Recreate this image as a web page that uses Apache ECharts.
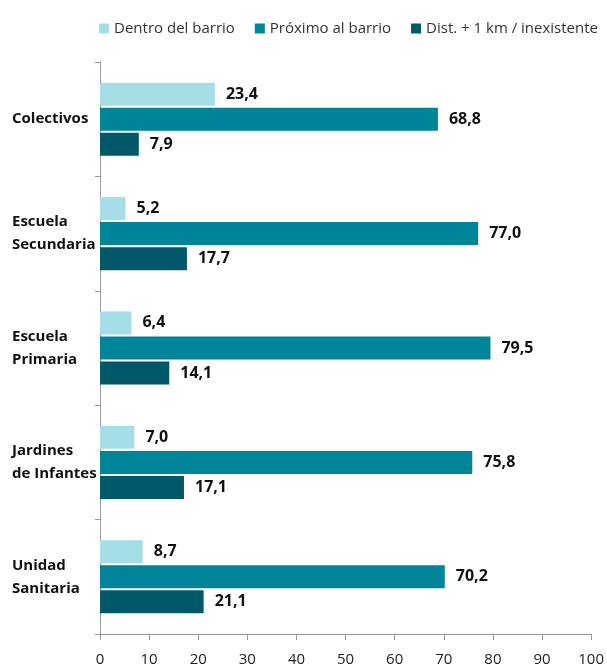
<!DOCTYPE html>
<html><head><meta charset="utf-8">
<script src="https://cdn.jsdelivr.net/npm/echarts@6/dist/echarts.min.js"></script>
<style>html,body{margin:0;padding:0;background:#fff}#c{width:607px;height:667px}</style>
</head><body><div id="c"></div>
<script>
const categories = ['Colectivos', 'Escuela\nSecundaria', 'Escuela\nPrimaria', 'Jardines\nde Infantes', 'Unidad\nSanitaria'];
const seriesNames = ['Dentro del barrio', 'Próximo al barrio', 'Dist. + 1 km / inexistente'];
const dentro = [23.4, 5.2, 6.4, 7.0, 8.7];
const proximo = [68.8, 77.0, 79.5, 75.8, 70.2];
const distante = [7.9, 17.7, 14.1, 17.1, 21.1];
const colors = ['#a6dee7', '#00849a', '#005868'];
const font = '"Open Sans", "Noto Sans", sans-serif';

const fmt = p => p.value.toFixed(1).replace('.', ',');
const mk = (name, data, color) => ({
  name, type: 'bar', data, barWidth: 23, barGap: '9%',
  itemStyle: { color },
  label: { show: true, position: 'right', distance: 11, formatter: fmt,
    fontFamily: font, fontWeight: 'bold', fontSize: 16, color: '#111' }
});

const chart = echarts.init(document.getElementById('c'));
chart.setOption({
  animation: false,
  color: colors,
  textStyle: { fontFamily: font },
  legend: {
    top: 16, right: 4, itemWidth: 10, itemHeight: 10, itemGap: 20,
    icon: 'rect',
    textStyle: { fontFamily: font, fontSize: 15, color: '#333' },
    data: seriesNames
  },
  grid: { left: 100, right: 15, top: 62, bottom: 28, containLabel: false },
  xAxis: {
    type: 'value', min: 0, max: 100, interval: 10,
    splitLine: { show: false },
    axisLine: { show: true, lineStyle: { color: '#999' } },
    axisTick: { show: true, length: 6, lineStyle: { color: '#999' } },
    axisLabel: { fontFamily: font, fontSize: 15, color: '#222', margin: 18 }
  },
  yAxis: {
    type: 'category', data: categories, inverse: true,
    axisLine: { show: true, lineStyle: { color: '#999' } },
    axisTick: { show: true, length: 5, lineStyle: { color: '#999' } },
    axisLabel: { fontFamily: font, fontSize: 15, fontWeight: 'bold', color: '#111',
      align: 'left', margin: 88, lineHeight: 23 }
  },
  series: [
    mk(seriesNames[0], dentro, colors[0]),
    mk(seriesNames[1], proximo, colors[1]),
    mk(seriesNames[2], distante, colors[2])
  ]
});
</script></body></html>
